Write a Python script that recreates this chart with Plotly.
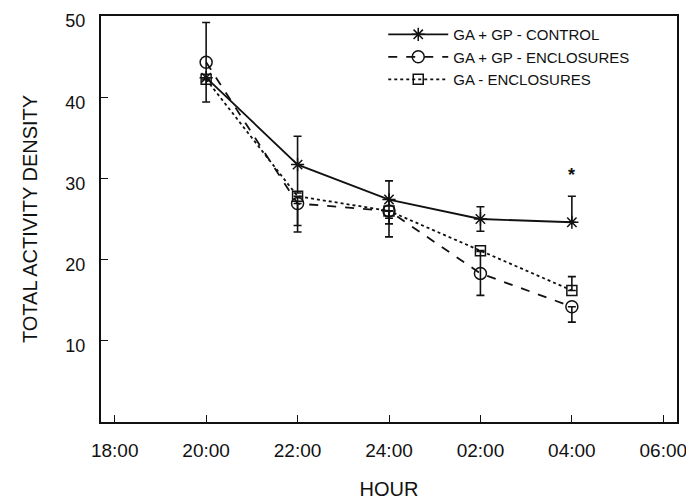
import plotly.graph_objects as go

# =========================
# DATA
# =========================

hours = [20, 22, 24, 26, 28]
tick_vals = [18, 20, 22, 24, 26, 28, 30]
tick_text = ["18:00", "20:00", "22:00", "24:00", "02:00", "04:00", "06:00"]

control = [42.4, 31.7, 27.4, 25.0, 24.6]
control_up = [0, 3.5, 2.3, 1.5, 3.2]
control_down = [0, 3.5, 2.3, 1.5, 0]

gp_encl = [44.3, 26.9, 26.0, 18.3, 14.2]
gp_encl_up = [4.9, 0, 0, 2.7, 0]
gp_encl_down = [4.9, 3.5, 3.2, 2.7, 1.9]

ga_encl = [42.2, 27.8, 26.0, 21.1, 16.2]
ga_encl_up = [0, 0, 0, 0, 1.7]
ga_encl_down = [0, 3.6, 1.6, 0, 0]

FONT = "Liberation Sans, Arial, sans-serif"
INK = "#111111"

# =========================
# FIGURE
# =========================

fig = go.Figure()

series = [
    ("GA + GP - CONTROL", control, control_up, control_down, "solid", "asterisk-open", 11),
    ("GA + GP - ENCLOSURES", gp_encl, gp_encl_up, gp_encl_down, "dash", "circle-open", 12),
    ("GA - ENCLOSURES", ga_encl, ga_encl_up, ga_encl_down, "dot", "square-open", 10),
]

for name, vals, up, down, dash, symbol, size in series:
    fig.add_trace(
        go.Scatter(
            x=hours,
            y=vals,
            mode="lines+markers",
            name=name,
            line=dict(color=INK, width=1.8, dash=dash),
            marker=dict(symbol=symbol, size=size, color=INK, line=dict(width=1.5, color=INK)),
            error_y=dict(
                type="data",
                symmetric=False,
                array=up,
                arrayminus=down,
                color=INK,
                thickness=1.6,
                width=4,
            ),
        )
    )

fig.add_annotation(
    x=28, y=30.4, text="<b>*</b>", showarrow=False,
    font=dict(family=FONT, size=18, color=INK),
)

# the page body adds an 8px margin, so the figure is shrunk to fit the window
fig.update_layout(
    width=686,
    height=496,
    paper_bgcolor="white",
    plot_bgcolor="white",
    margin=dict(l=93, r=17, t=8, b=82, autoexpand=False),
    font=dict(family=FONT, size=19, color=INK),
    showlegend=True,
    legend=dict(
        x=0.49, y=0.995, xanchor="left", yanchor="top",
        bgcolor="rgba(0,0,0,0)",
        font=dict(family=FONT, size=15, color=INK),
        itemwidth=60,
        tracegroupgap=0,
    ),
    xaxis=dict(
        range=[17.7, 30.3],
        tickvals=tick_vals,
        ticktext=tick_text,
        ticks="inside",
        ticklen=7,
        tickcolor=INK,
        ticklabelstandoff=10,
        ticklabeloverflow="allow",
        automargin=False,
        showgrid=False,
        zeroline=False,
        showline=True,
        linecolor=INK,
        linewidth=2,
        mirror=True,
        title=dict(text="HOUR", font=dict(size=20), standoff=22),
        tickfont=dict(size=19),
    ),
    yaxis=dict(
        range=[0, 50],
        tickvals=[10, 20, 30, 40, 50],
        ticks="inside",
        ticklen=7,
        tickcolor=INK,
        ticklabelstandoff=10,
        ticklabelshift=5,
        ticklabeloverflow="allow",
        automargin=False,
        showgrid=False,
        zeroline=False,
        showline=True,
        linecolor=INK,
        linewidth=2,
        mirror=True,
        title=dict(text="TOTAL ACTIVITY DENSITY", font=dict(size=20), standoff=22),
        tickfont=dict(size=18),
    ),
)

fig.write_html("out.html")
